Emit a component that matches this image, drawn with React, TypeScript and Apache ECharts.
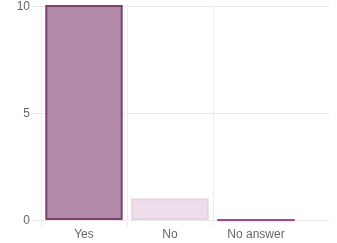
import React, { useEffect, useRef } from "react";
import * as echarts from "echarts";

const categories = ["Yes", "No", "No answer"];
const values = [10, 1, 0];
const fillColors = ["#b08aa6", "#eedeeb", "#c04aa6"];
const borderColors = ["#7f3f70", "#e6d2e2", "#b43c9c"];
const yTicks = [0, 5, 10];
const yMax = 10;

export default function App() {
  const ref = useRef<HTMLDivElement>(null);
  useEffect(() => {
    const chart = echarts.init(ref.current!, null, { renderer: "svg" });
    const font = "'Liberation Sans', Arial, sans-serif";
    const n = categories.length;
    const plotH = 215;
    const tickLen = 7;
    // grid 1 extends below the zero line so its split lines act as tick marks
    const extMin = -(tickLen * yMax) / plotH;
    chart.setOption({
      animation: false,
      grid: [
        { left: 41, top: 5, width: 288, height: plotH },
        { left: 41, top: 5, width: 86 * n, height: plotH + tickLen },
      ],
      xAxis: [
        { type: "value", gridIndex: 0, show: false, min: 0, max: 1 },
        {
          type: "category",
          gridIndex: 1,
          data: categories,
          axisLine: { show: false },
          axisTick: { show: false },
          axisLabel: { color: "#666", fontSize: 12, fontFamily: font, margin: 1, interval: 0 },
          splitLine: {
            show: true,
            showMaxLine: false,
            lineStyle: { color: "#eeeeee", width: 1 },
          },
        },
      ],
      yAxis: [
        {
          type: "value",
          gridIndex: 0,
          min: 0,
          max: yMax,
          interval: 5,
          axisLine: { show: false },
          axisTick: { show: true, length: 8, lineStyle: { color: "#e6e6e6" } },
          axisLabel: {
            color: "#666",
            fontSize: 12,
            fontFamily: font,
            margin: 11,
            formatter: (v: number) => (yTicks.includes(v) ? String(v) : ""),
          },
          splitLine: { show: true, lineStyle: { color: "#e8e8e8", width: 1 } },
        },
        { type: "value", gridIndex: 1, min: extMin, max: yMax, show: false },
      ],
      series: [
        {
          type: "bar",
          xAxisIndex: 1,
          yAxisIndex: 1,
          barWidth: "90%",
          data: values.map((v, i) => ({
            value: v,
            itemStyle: {
              color: fillColors[i],
              borderColor: borderColors[i],
              borderWidth: 2,
            },
          })),
        },
      ],
    });
    return () => chart.dispose();
  }, []);
  return (
    <div
      ref={ref}
      style={{ position: "fixed", left: 0, top: 0, width: 337, height: 243 }}
    />
  );
}
